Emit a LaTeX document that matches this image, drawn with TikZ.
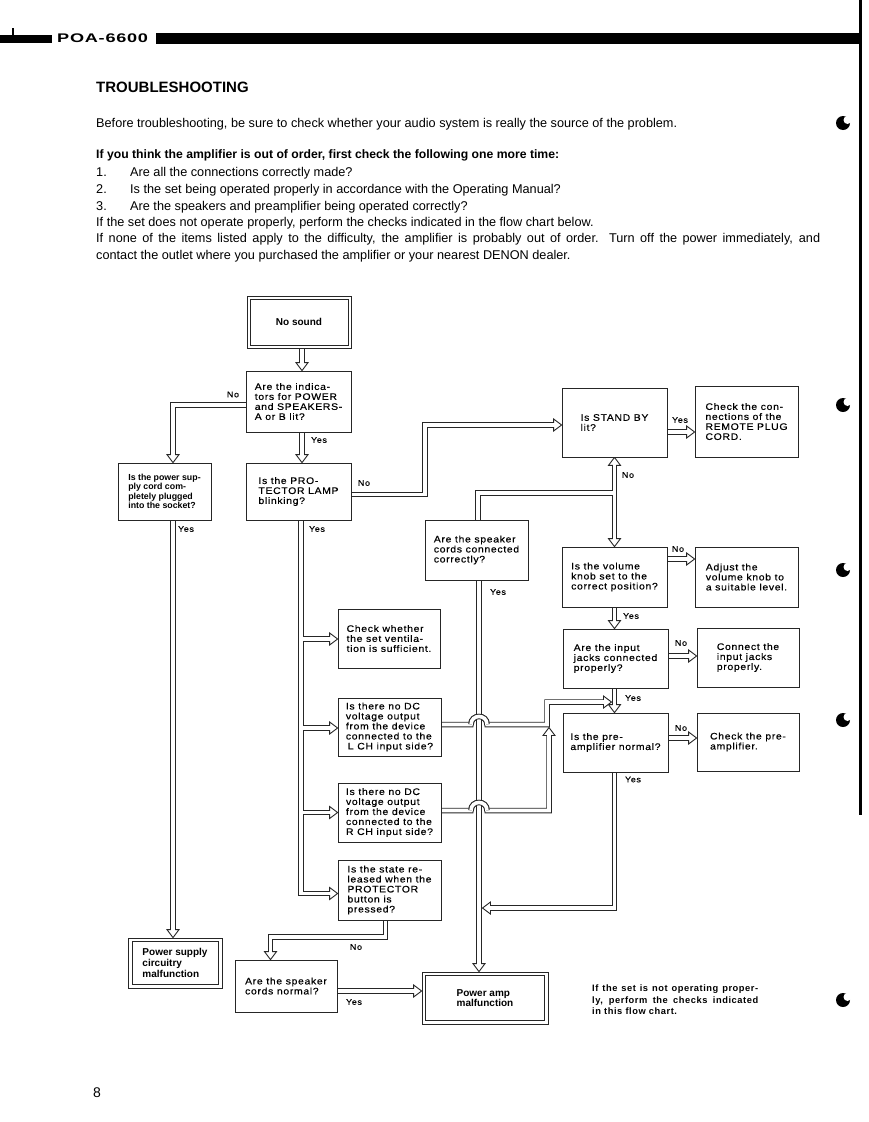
\documentclass[tikz,border=0pt]{standalone}
\usepackage{fontspec}
\setmainfont{Liberation Sans}
\newfontfamily\chartfont[FakeStretch=1.1,LetterSpace=7,FakeBold=0.3]{Liberation Sans}
\newfontfamily\boldfont{Liberation Sans}
\newfontfamily\notefont[LetterSpace=6]{Liberation Sans}
\newfontfamily\hdrfont[FakeStretch=1.45,LetterSpace=6]{Liberation Sans}
\pgfdeclarelayer{bg}
\pgfsetlayers{bg,main}
\tikzset{
  box/.style={draw=black!85, line width=0.8pt, fill=white, inner sep=0pt, align=left,
    font=\chartfont\fontsize{9.5}{10}\selectfont},
  dbox/.style={box, font=\boldfont\bfseries\fontsize{10}{10.8}\selectfont},
  frame/.style={draw=black!85, line width=0.8pt},
  lbl/.style={inner sep=0pt, font=\chartfont\fontsize{8.2}{9}\selectfont},
  bodytext/.style={anchor=base west, inner sep=0pt, font=\fontsize{12.7}{15}\selectfont},
  ahead/.pic={\draw[draw=black!85, line width=0.9pt, fill=white, line join=miter]
    (0,0) -- (-8,6) -- (-8,-6) -- cycle;},
  hump/.style={draw=black!85, double=white, double distance=3.6pt, line width=0.95pt}
}
\newcommand{\chartlinks}{%
  \draw ([xshift=3pt]nosound.south) -- ([xshift=3.5pt,yshift=\lkend]ind.north);
  \draw ([yshift=-3.5pt]ind.west) -| ([xshift=8.5pt,yshift=\lkend]psc.north);
  \draw ([xshift=3.5pt]ind.south) -- ([xshift=3.5pt,yshift=\lkend]lamp.north);
  \draw ([yshift=-3pt]lamp.east) -- (425,494.5) |- ([xshift=-\lkend,yshift=-2.5pt]standby.west);
  \draw ([yshift=-9.5pt]standby.east) -- ([xshift=-\lkend,yshift=-10.5pt]remote.west);
  \draw ([yshift=-\lkend]standby.south) -- ([yshift=\lkend]vol.north);
  \draw ([xshift=1.5pt]spk.north) |- (614.5,493);
  \draw ([xshift=2.5pt]spk.south) -- ([yshift=\lkend]pampTop);
  \draw ([yshift=18pt]vol.east) -- ([xshift=-\lkend,yshift=18pt]adjust.west);
  \draw (vol.south) -- ([xshift=-1pt,yshift=\lkend]input.north);
  \draw ([yshift=2.5pt]input.east) -- ([xshift=-\lkend,yshift=1.5pt]connect.west);
  \draw ([xshift=-1pt]input.south) -- ([xshift=-1pt,yshift=\lkend]pre.north);
  \draw ([yshift=4.5pt]pre.east) -- ([xshift=-\lkend,yshift=4pt]checkpre.west);
  \draw ([xshift=-1pt]pre.south) |- ([xshift=\lkend]nTip);
  \draw ([xshift=2.5pt]lamp.south) |- ([xshift=-\lkend,yshift=-3.5pt]prot.west);
  \draw (301,639) -- ([xshift=-\lkend,yshift=-0.5pt]vent.west);
  \draw (301,728) -- ([xshift=-\lkend,yshift=-1pt]lch.west);
  \draw (301,812.5) -- ([xshift=-\lkend]rch.west);
  \draw ([yshift=2.5pt]lch.east) -- (471,724.5) .. controls (471,713.8) and (487,713.8) .. (487,724.5)
        -- (547,724.5) |- ([xshift=-\lkend]pTip);
  \draw ([yshift=2pt]rch.east) -- (471,810.5) .. controls (471,799.8) and (487,799.8) .. (487,810.5)
        -| ([yshift=-\lkend]qTip);
  \draw ([xshift=-4pt]prot.south) -- (385.5,937) -| ([xshift=-15.5pt,yshift=\lkend]spk2.north);
  \draw ([xshift=8.5pt]psc.south) -- ([yshift=\lkend]pssTop);
  \draw ([yshift=-5pt]spk2.east) -- ([xshift=-\lkend]pampL);
}
\begin{document}
\begin{tikzpicture}[x=1pt,y=-1pt]
\useasboundingbox (0,0) rectangle (868,1122);

% header
\fill (0,35) rectangle (52,43);
\draw[line width=1.5pt] (13,28) -- (13,43);
\node[anchor=base west, inner sep=0pt, font=\hdrfont\bfseries\fontsize{12.5}{14}\selectfont] (hdr) at (57,42.5) {POA-6600};
\fill (156,32.5) rectangle (860,43.5);
\draw[line width=3pt] (860.5,0) -- (860.5,815);
\foreach \by in {123, 405, 570, 720, 1000}{
  \fill (843,\by) circle (7pt);
  \fill[white] (847.5,\by-3) circle (4pt);
}

% text
\node[anchor=base west, inner sep=0pt, font=\bfseries\fontsize{15}{18}\selectfont] (title) at (96,92.7) {TROUBLESHOOTING};
\node[bodytext] (t1) at (96,127) {Before troubleshooting, be sure to check whether your audio system is really the source of the problem.};
\node[bodytext, font=\bfseries\fontsize{12.2}{15}\selectfont] (t2) at (96,158.3) {If you think the amplifier is out of order, first check the following one more time:};
\node[bodytext] (n1) at (96,176.5) {1.};
\node[bodytext] (t3) at (130,176.5) {Are all the connections correctly made?};
\node[bodytext] (n2) at (96,193.3) {2.};
\node[bodytext] (t4) at (130,193.3) {Is the set being operated properly in accordance with the Operating Manual?};
\node[bodytext] (n3) at (96,210.2) {3.};
\node[bodytext] (t5) at (130,210.2) {Are the speakers and preamplifier being operated correctly?};
\node[bodytext] (t6) at (96,226.5) {If the set does not operate properly, perform the checks indicated in the flow chart below.};
\node[bodytext] (t7) at (96,242.5) {\makebox[724pt][s]{If none of the items listed apply to the difficulty, the amplifier is probably out of order. Turn off the power immediately, and}};
\node[bodytext] (t8) at (96,259.5) {contact the outlet where you purchased the amplifier or your nearest DENON dealer.};
\node[anchor=base west, inner sep=0pt, font=\fontsize{14}{16}\selectfont] (pg) at (93,1097) {8};

% boxes
\node[dbox, minimum width=104pt, minimum height=52pt] (nosound) at (299,322) {No sound};
\node[box, minimum width=105pt, minimum height=61pt] (ind) at (298.5,401.5) {Are the indica-\\tors for POWER\\and SPEAKERS-\\A or B lit?};
\node[box, minimum width=93pt, minimum height=57pt, font=\boldfont\bfseries\fontsize{8.8}{9.4}\selectfont] (psc) at (164.5,491.5) {Is the power sup-\\ply cord com-\\pletely plugged\\into the socket?};
\node[box, minimum width=105pt, minimum height=57pt] (lamp) at (298.5,491.5) {Is the PRO-\\TECTOR LAMP\\blinking?};
\node[box, minimum width=105pt, minimum height=69pt] (standby) at (614.5,422.5) {Is STAND BY\\lit?};
\node[box, minimum width=103pt, minimum height=71pt] (remote) at (746.5,421.5) {Check the con-\\nections of the\\REMOTE PLUG\\CORD.};
\node[box, minimum width=103pt, minimum height=60pt] (spk) at (476.5,550) {Are the speaker\\cords connected\\correctly?};
\node[box, minimum width=105pt, minimum height=60pt] (vol) at (614.5,577) {Is the volume\\knob set to the\\correct position?};
\node[box, minimum width=103pt, minimum height=60pt] (adjust) at (746.5,577) {Adjust the\\volume knob to\\a suitable level.};
\node[box, minimum width=105pt, minimum height=59pt] (input) at (615.5,658.5) {Are the input\\jacks connected\\properly?};
\node[box, minimum width=102pt, minimum height=59pt] (connect) at (748,657.5) {Connect the\\input jacks\\properly.};
\node[box, minimum width=105pt, minimum height=59pt] (pre) at (615.5,742.5) {Is the pre-\\amplifier normal?};
\node[box, minimum width=102pt, minimum height=58pt] (checkpre) at (748,742) {Check the pre-\\amplifier.};
\node[box, minimum width=102pt, minimum height=59pt] (vent) at (389,638.5) {Check whether\\the set ventila-\\tion is sufficient.};
\node[box, minimum width=103pt, minimum height=58pt] (lch) at (389.5,727) {Is there no DC\\voltage output\\from the device\\connected to the\\\hspace{2pt}L CH input side?};
\node[box, minimum width=103pt, minimum height=59pt] (rch) at (389.5,812.5) {Is there no DC\\voltage output\\from the device\\connected to the\\R CH input side?};
\node[box, minimum width=103pt, minimum height=60pt] (prot) at (389.5,890) {Is the state re-\\leased when the\\PROTECTOR\\button is\\pressed?};
\node[dbox, minimum width=94pt, minimum height=50pt] (pss) at (175,963) {Power supply\\circuitry\\malfunction};
\node[box, minimum width=102pt, minimum height=52pt] (spk2) at (286,986) {Are the speaker\\cords normal?};
\node[dbox, minimum width=126pt, minimum height=52pt] (pamp) at (485,998) {Power amp\\malfunction};

% inner frames of the double boxes
\draw[frame] ([shift={(3.5,3.5)}]nosound.north west) rectangle ([shift={(-3.5,-3.5)}]nosound.south east);
\draw[frame] ([shift={(4.5,4)}]pss.north west) rectangle ([shift={(-4.5,-4)}]pss.south east);
\draw[frame] ([shift={(4,4)}]pamp.north west) rectangle ([shift={(-4,-4)}]pamp.south east);

\node[anchor=north west, inner sep=0pt, text width=166pt, align=justify,
  font=\notefont\bfseries\fontsize{9.3}{11.5}\selectfont] (note) at (592,985)
  {If the set is not operating proper-\linebreak ly, perform the checks indicated\linebreak in this flow chart.};

% connector end points
\coordinate (pssTop) at ([xshift=-2pt]pss.north);
\coordinate (pampTop) at ([xshift=-6pt]pamp.north);
\coordinate (pampL) at ([yshift=7pt]pamp.west);
\coordinate (nTip) at (482.5,908);
\coordinate (pTip) at (611.5,702);
\coordinate (qTip) at (549,727.5);

% labels
\node[lbl] (lb1) at (233,394.5) {No};
\node[lbl] (lb2) at (319,440) {Yes};
\node[lbl] (lb3) at (364,483) {No};
\node[lbl] (lb4) at (186,529) {Yes};
\node[lbl] (lb5) at (317,529) {Yes};
\node[lbl] (lb6) at (680,420) {Yes};
\node[lbl] (lb7) at (628,475) {No};
\node[lbl] (lb8) at (498,592) {Yes};
\node[lbl] (lb9) at (678,549) {No};
\node[lbl] (lb10) at (631,616) {Yes};
\node[lbl] (lb11) at (681,643) {No};
\node[lbl] (lb12) at (633,698) {Yes};
\node[lbl] (lb13) at (681,728) {No};
\node[lbl] (lb14) at (633,779.5) {Yes};
\node[lbl] (lb15) at (356,947) {No};
\node[lbl] (lb16) at (354,1002) {Yes};

% connectors
\begin{pgfonlayer}{bg}
\fill[white] (0,0) rectangle (868,1122);
\begin{scope}[line width=5.5pt, draw=black!85]
  \def\lkend{8pt}\chartlinks
\end{scope}
\pic[rotate=-90] at ([xshift=3.5pt]ind.north) {ahead};
\pic[rotate=-90] at ([xshift=8.5pt]psc.north) {ahead};
\pic[rotate=-90] at ([xshift=3.5pt]lamp.north) {ahead};
\pic at ([yshift=-2.5pt]standby.west) {ahead};
\pic at ([yshift=-10.5pt]remote.west) {ahead};
\pic[rotate=90] at (standby.south) {ahead};
\pic[rotate=-90] at (vol.north) {ahead};
\pic[rotate=-90] at (pampTop) {ahead};
\pic at ([yshift=18pt]adjust.west) {ahead};
\pic[rotate=-90] at ([xshift=-1pt]input.north) {ahead};
\pic at ([yshift=1.5pt]connect.west) {ahead};
\pic[rotate=-90] at ([xshift=-1pt]pre.north) {ahead};
\pic at ([yshift=4pt]checkpre.west) {ahead};
\pic[rotate=180] at (nTip) {ahead};
\pic at ([yshift=-0.5pt]vent.west) {ahead};
\pic at ([yshift=-1pt]lch.west) {ahead};
\pic at (rch.west) {ahead};
\pic at ([yshift=-3.5pt]prot.west) {ahead};
\pic at (pTip) {ahead};
\pic[rotate=90] at (qTip) {ahead};
\pic[rotate=-90] at ([xshift=-15.5pt]spk2.north) {ahead};
\pic[rotate=-90] at (pssTop) {ahead};
\pic at (pampL) {ahead};
\begin{scope}[line width=3.6pt, draw=white]
  \def\lkend{7pt}\chartlinks
\end{scope}
\draw[hump] (471,724.5) .. controls (471,713.8) and (487,713.8) .. (487,724.5);
\draw[hump] (471,810.5) .. controls (471,799.8) and (487,799.8) .. (487,810.5);
\end{pgfonlayer}
\end{tikzpicture}
\end{document}
